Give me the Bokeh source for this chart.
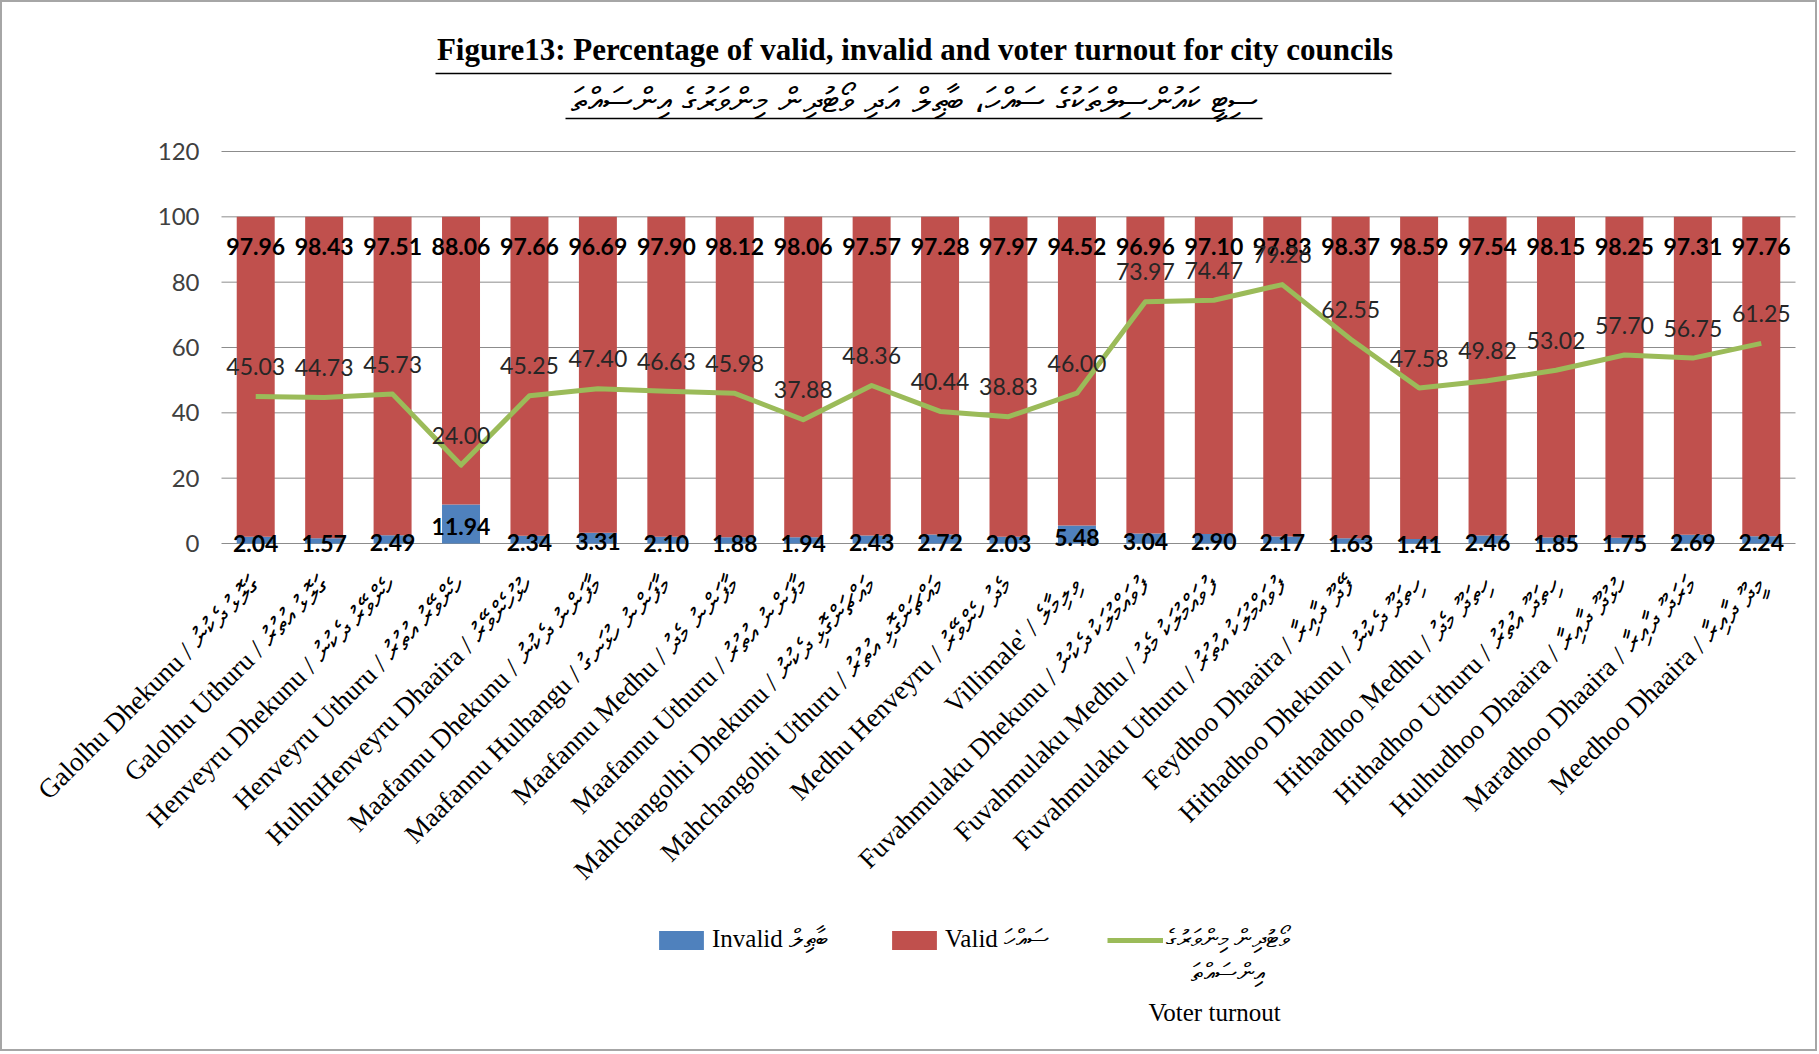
import numpy as np
from bokeh.plotting import figure
from bokeh.models import ColumnDataSource, Range1d, Legend, LegendItem, FixedTicker
from bokeh.layouts import column
from bokeh.embed import file_html
from bokeh.resources import INLINE
from bokeh.core.properties import value

# ---------------- data ----------------
categories = [
    "Galolhu Dhekunu / ގަލޮޅު ދެކުނު",
    "Galolhu Uthuru / ގަލޮޅު އުތުރު",
    "Henveyru Dhekunu / ހެންވޭރު ދެކުނު",
    "Henveyru Uthuru / ހެންވޭރު އުތުރު",
    "HulhuHenveyru Dhaaira / ހުޅުހެންވޭރު",
    "Maafannu Dhekunu / މާފަންނު ދެކުނު",
    "Maafannu Hulhangu / މާފަންނު ހުޅަނގު",
    "Maafannu Medhu / މާފަންނު މެދު",
    "Maafannu Uthuru / މާފަންނު އުތުރު",
    "Mahchangolhi Dhekunu / މައްޗަންގޮޅި ދެކުނު",
    "Mahchangolhi Uthuru / މައްޗަންގޮޅި އުތުރު",
    "Medhu Henveyru / މެދު ހެންވޭރު",
    "Villimale' / ވިލިމާލެ",
    "Fuvahmulaku Dhekunu / ފުވައްމުލަކު ދެކުނު",
    "Fuvahmulaku Medhu / ފުވައްމުލަކު މެދު",
    "Fuvahmulaku Uthuru / ފުވައްމުލަކު އުތުރު",
    "Feydhoo Dhaaira / ފޭދޫ ދާއިރާ",
    "Hithadhoo Dhekunu / ހިތަދޫ ދެކުނު",
    "Hithadhoo Medhu / ހިތަދޫ މެދު",
    "Hithadhoo Uthuru / ހިތަދޫ އުތުރު",
    "Hulhudhoo Dhaaira / ހުޅުދޫ ދާއިރާ",
    "Maradhoo Dhaaira / މަރަދޫ ދާއިރާ",
    "Meedhoo Dhaaira / މީދޫ ދާއިރާ",
]
valid = [97.96, 98.43, 97.51, 88.06, 97.66, 96.69, 97.90, 98.12, 98.06, 97.57, 97.28, 97.97,
         94.52, 96.96, 97.10, 97.83, 98.37, 98.59, 97.54, 98.15, 98.25, 97.31, 97.76]
invalid = [2.04, 1.57, 2.49, 11.94, 2.34, 3.31, 2.10, 1.88, 1.94, 2.43, 2.72, 2.03,
           5.48, 3.04, 2.90, 2.17, 1.63, 1.41, 2.46, 1.85, 1.75, 2.69, 2.24]
turnout = [45.03, 44.73, 45.73, 24.00, 45.25, 47.40, 46.63, 45.98, 37.88, 48.36, 40.44, 38.83,
           46.00, 73.97, 74.47, 79.26, 62.55, 47.58, 49.82, 53.02, 57.70, 56.75, 61.25]
y_ticks = [0, 20, 40, 60, 80, 100, 120]

title_en = "Figure13: Percentage of valid, invalid and voter turnout for city councils"
title_dv = "ސިޓީ ކައުންސިލްތަކުގެ ސައްހަ، ބާޠިލް އަދި ވޯޓުދިން މިންވަރުގެ އިންސައްތަ"
legend_invalid = "Invalid ބާޠިލް"
legend_valid = "Valid ސައްހަ"
legend_turnout = ["ވޯޓުދިން މިންވަރުގެ", "އިންސައްތަ", "Voter turnout"]

# ---------------- styles / layout ----------------
BLUE = "#4F81BD"
RED = "#C0504D"
GREEN = "#9BBB59"
GRID = "#8c8c8c"
W = 1813                    # canvas width
FL, FW = 219, 1574          # left edge / width of the bar area, canvas px
HH = 125                    # header height
MH = 922                    # chart canvas height
TOP = 24                    # px above the 120 gridline
PX = 392 / 120              # px per value unit

n = len(categories)
xi = list(range(n))
DX = FW / n                 # px per category
X0 = -0.5 - FL / DX
X1 = X0 + W / DX
Y1 = 120 + TOP / PX
Y0 = Y1 - MH / PX


def x_at(px):
    return X0 + px / DX


def y_at(px):
    return Y1 - px / PX


src = ColumnDataSource(dict(
    xi=xi,
    invalid=invalid,
    valid=valid,
    turnout=turnout,
    total=[a + b for a, b in zip(invalid, valid)],
    inv_mid=[a / 2 for a in invalid],
    valid_txt=[f"{v:.2f}" for v in valid],
    inv_txt=[f"{v:.2f}" for v in invalid],
    turn_txt=[f"{v:.2f}" for v in turnout],
))

# ---------------- header (title) ----------------
header = figure(width=W, height=HH, x_range=Range1d(0, W), y_range=Range1d(HH, 0),
                toolbar_location=None, output_backend="svg",
                x_axis_location=None, y_axis_location=None, min_border=0)
header.grid.visible = False
header.outline_line_color = None
header.text(x=[913], y=[47], text=[title_en], text_font=value("Liberation Serif"),
            text_font_style="bold", text_font_size="31px", text_align="center",
            text_baseline="alphabetic", text_color="black")
header.segment(x0=[433], y0=[71], x1=[1389], y1=[71], line_width=1.5, line_color="black")
header.text(x=[912], y=[97], text=[title_dv], text_font=value("DejaVu Sans"),
            text_font_size="34px", text_align="center", text_baseline="middle",
            text_color="black")
header.segment(x0=[563], y0=[116], x1=[1260], y1=[116], line_width=1.5, line_color="black")

# ---------------- main chart ----------------
p = figure(x_range=Range1d(X0, X1), y_range=Range1d(Y0, Y1),
           width=W, height=MH, min_border=0,
           toolbar_location=None, output_backend="svg")
p.outline_line_color = None
p.grid.visible = False

# horizontal gridlines across the bar area only
p.segment(x0=[xi[0] - 0.5] * len(y_ticks), x1=[xi[-1] + 0.5] * len(y_ticks),
          y0=y_ticks, y1=y_ticks, line_color=GRID, line_width=1)

p.yaxis.fixed_location = xi[0] - 0.5
p.yaxis.ticker = FixedTicker(ticks=y_ticks)
p.yaxis.axis_line_color = None
p.yaxis.major_tick_line_color = None
p.yaxis.major_tick_out = 0
p.yaxis.major_tick_in = 0
p.yaxis.minor_tick_line_color = None
p.yaxis.major_label_standoff = 22
p.yaxis.major_label_text_font = "Lato"
p.yaxis.major_label_text_font_size = "24px"
p.yaxis.major_label_text_color = "#404040"

p.xaxis.fixed_location = -16 / PX
p.xaxis.ticker = FixedTicker(ticks=xi)
p.xaxis.major_label_overrides = dict(zip(xi, categories))
p.xaxis.axis_line_color = None
p.xaxis.major_tick_line_color = None
p.xaxis.minor_tick_line_color = None
p.xaxis.major_tick_out = 0
p.xaxis.major_tick_in = 0
p.xaxis.major_label_orientation = np.pi / 4
p.xaxis.major_label_standoff = 22
p.xaxis.major_label_text_font = "Liberation Serif"
p.xaxis.major_label_text_font_size = "27px"
p.xaxis.major_label_text_color = "black"

bars = p.vbar_stack(["invalid", "valid"], x="xi", width=0.555, color=[BLUE, RED],
                    line_color=None, source=src)
line = p.line(x="xi", y="turnout", source=src, line_width=5, line_color=GREEN,
              line_join="round")

p.text(x="xi", y="total", text="valid_txt", source=src, text_align="center",
       text_baseline="middle", y_offset=30, text_font=value("Lato"),
       text_font_style="bold", text_font_size="23px", text_color="black")
p.text(x="xi", y="inv_mid", text="inv_txt", source=src, text_align="center",
       text_baseline="middle", y_offset=3, text_font=value("Lato"),
       text_font_style="bold", text_font_size="23px", text_color="black")
p.text(x="xi", y="turnout", text="turn_txt", source=src, text_align="center",
       text_baseline="middle", y_offset=-30, text_font=value("Lato"),
       text_font_size="23px", text_color="#262626")

legend = Legend(items=[LegendItem(label=legend_invalid, renderers=[bars[0]]),
                       LegendItem(label=legend_valid, renderers=[bars[1]]),
                       LegendItem(label=legend_turnout[0], renderers=[line])],
                orientation="horizontal", location=(651, 95),
                label_text_font="Liberation Serif", label_text_font_size="25px",
                label_text_color="black",
                glyph_width=56, glyph_height=24, spacing=58, label_standoff=3,
                margin=0, padding=6,
                border_line_color=None, background_fill_alpha=0)
p.add_layout(legend)

# continuation lines of the voter-turnout legend entry
p.text(x=[x_at(1262)], y=[y_at(845)], text=[legend_turnout[1]], text_align="right",
       text_baseline="middle", text_font=value("Liberation Serif"),
       text_font_size="25px", text_color="black")
p.text(x=[x_at(1146)], y=[y_at(885)], text=[legend_turnout[2]], text_align="left",
       text_baseline="middle", text_font=value("Liberation Serif"),
       text_font_size="25px", text_color="black")

lay = column(header, p, spacing=0)
lay.styles = {"border": "2px solid #a6a6a6"}

open("out.html", "w").write(file_html(lay, INLINE))
